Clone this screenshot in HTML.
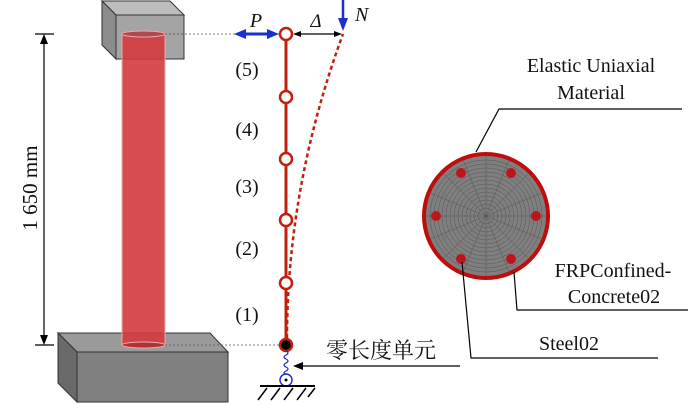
<!DOCTYPE html>
<html><head><meta charset="utf-8"><style>
html,body{margin:0;padding:0;background:#fff;}
svg{display:block;}
text{font-family:"Liberation Serif","Noto Serif CJK SC",serif;fill:#111;}
</style></head><body>
<svg width="700" height="404" viewBox="0 0 700 404" xmlns="http://www.w3.org/2000/svg">
<!-- top block -->
<polygon points="102,1 170,1 184,15 116,15" fill="#bdbdbd" stroke="#333" stroke-width="1"/>
<polygon points="102,1 116,15 116,59 102,45" fill="#8c8c8c" stroke="#333" stroke-width="1"/>
<rect x="116" y="15" width="68" height="44" fill="#a4a4a4" stroke="#333" stroke-width="1"/>
<!-- bottom block -->
<polygon points="58,333 210,333 228,352 77,352" fill="#9a9a9a" stroke="#333" stroke-width="1"/>
<polygon points="58,333 77,352 77,402 58,383" fill="#6a6a6a" stroke="#333" stroke-width="1"/>
<rect x="77" y="352" width="151" height="50" fill="#808080" stroke="#333" stroke-width="1"/>
<!-- column -->
<rect x="122" y="34" width="43" height="311" fill="#d43a3e" fill-opacity="0.9" stroke="#eaa" stroke-width="1"/>
<ellipse cx="143.5" cy="34" rx="21.5" ry="3" fill="#b04a4c" stroke="#eaa"/>
<ellipse cx="143.5" cy="345" rx="21.5" ry="3" fill="#b52f33" stroke="#eaa"/>
<!-- dims -->
<line x1="44" y1="36" x2="44" y2="343" stroke="#000" stroke-width="1.2"/>
<path d="M40,44 L44,34 L48,44 Z M40,335 L44,345 L48,335 Z" fill="#000"/>
<line x1="35" y1="34" x2="54" y2="34" stroke="#000" stroke-width="1.2"/>
<line x1="35" y1="345" x2="54" y2="345" stroke="#000" stroke-width="1.2"/>
<text x="30" y="188" font-size="21" text-anchor="middle" transform="rotate(-90 30 188)" dy="7">1 650 mm</text>
<line x1="165" y1="34" x2="280" y2="34" stroke="#555" stroke-width="0.8" stroke-dasharray="2,2"/>
<line x1="145" y1="345" x2="280" y2="345" stroke="#555" stroke-width="0.8" stroke-dasharray="2,2"/>
<!-- deflected shape -->
<path d="M287,345 Q286,189 343,34" fill="none" stroke="#c0200c" stroke-width="2.5" stroke-dasharray="4,3"/>
<!-- member -->
<line x1="286" y1="34" x2="286" y2="345" stroke="#c0200c" stroke-width="3"/>
<g fill="#fff" stroke="#c0200c" stroke-width="2.5">
<circle cx="286" cy="34" r="6"/><circle cx="286" cy="97" r="6"/><circle cx="286" cy="159" r="6"/><circle cx="286" cy="220" r="6"/><circle cx="286" cy="283" r="6"/>
</g>
<circle cx="286" cy="345" r="6" fill="#000" stroke="#c0200c" stroke-width="2.5"/>
<g font-size="20" text-anchor="middle">
<text x="247" y="76">(5)</text><text x="247" y="136">(4)</text><text x="247" y="193">(3)</text><text x="247" y="255">(2)</text><text x="247" y="321">(1)</text>
</g>
<!-- P arrow -->
<line x1="244" y1="34" x2="268" y2="34" stroke="#1a2fd0" stroke-width="3"/>
<path d="M234,34 L246,29 L246,39 Z M279,34 L267,29 L267,39 Z" fill="#1a2fd0"/>
<text x="256" y="27" font-size="20" font-style="italic" text-anchor="middle">P</text>
<!-- delta -->
<line x1="300" y1="34" x2="334" y2="34" stroke="#000" stroke-width="1.2"/>
<path d="M293,34 L301,31 L301,37 Z M342,34 L334,31 L334,37 Z" fill="#000"/>
<text x="316" y="27" font-size="19" font-style="italic" text-anchor="middle">Δ</text>
<!-- N -->
<line x1="343" y1="0" x2="343" y2="20" stroke="#1a2fd0" stroke-width="2.5"/>
<path d="M338,18 L343,31 L348,18 Z" fill="#1a2fd0"/>
<text x="355" y="21" font-size="20" font-style="italic">N</text>
<!-- spring -->
<path d="M286,351 q4,2 0,4 q-4,2 0,4 q4,2 0,4 q-4,2 0,4 q4,2 0,4 q-4,2 0,3" fill="none" stroke="#1a2fd0" stroke-width="1.2"/>
<circle cx="286" cy="380" r="6" fill="#fff" stroke="#1a2fd0" stroke-width="1.5"/>
<circle cx="286" cy="380" r="1.5" fill="#000"/>
<line x1="260" y1="386" x2="315" y2="386" stroke="#000" stroke-width="2"/>
<path d="M267,388 L258,400 M280,388 L271,400 M293,388 L284,400 M306,388 L297,400 M315,388 L308,397" stroke="#000" stroke-width="1.5"/>
<!-- zero length -->
<line x1="460" y1="366" x2="296" y2="366" stroke="#000" stroke-width="1.2"/>
<path d="M293,366 L303,362 L303,370 Z" fill="#000"/>
<text x="381" y="358" font-size="22" text-anchor="middle" style="font-family:'Noto Serif CJK SC','Noto Sans CJK SC',serif">零长度单元</text>
<!-- section -->
<circle cx="486" cy="216" r="62" fill="#7f7f7f" stroke="#c00c0c" stroke-width="4"/>
<g stroke="#555" stroke-width="0.5" fill="none">
<circle cx="486" cy="216" r="56"/><circle cx="486" cy="216" r="52"/><circle cx="486" cy="216" r="48"/><circle cx="486" cy="216" r="44"/><circle cx="486" cy="216" r="40"/><circle cx="486" cy="216" r="36"/><circle cx="486" cy="216" r="32"/><circle cx="486" cy="216" r="28"/><circle cx="486" cy="216" r="24"/><circle cx="486" cy="216" r="20"/><circle cx="486" cy="216" r="16"/><circle cx="486" cy="216" r="12"/><circle cx="486" cy="216" r="8"/>
<path d="M426,216 H546 M486,156 V276 M444,174 L528,258 M528,174 L444,258 M430,193 L542,239 M430,239 L542,193 M463,160 L509,272 M509,160 L463,272"/>
</g>
<g fill="#c0141c">
<circle cx="461" cy="173" r="5"/><circle cx="511" cy="173" r="5"/><circle cx="436" cy="216" r="5"/><circle cx="536" cy="216" r="5"/><circle cx="461" cy="259" r="5"/><circle cx="511" cy="259" r="5"/>
</g>
<!-- leaders -->
<polyline points="476,152 499,109 682,109" fill="none" stroke="#000" stroke-width="1.2"/>
<polyline points="514,272 517,310 688,310" fill="none" stroke="#000" stroke-width="1.2"/>
<polyline points="462,262 471,358 658,358" fill="none" stroke="#000" stroke-width="1.2"/>
<g font-size="20" text-anchor="middle">
<text x="591" y="72">Elastic Uniaxial</text>
<text x="591" y="99">Material</text>
<text x="613" y="277">FRPConfined-</text>
<text x="614" y="303">Concrete02</text>
<text x="569" y="350">Steel02</text>
</g>
</svg>
</body></html>
